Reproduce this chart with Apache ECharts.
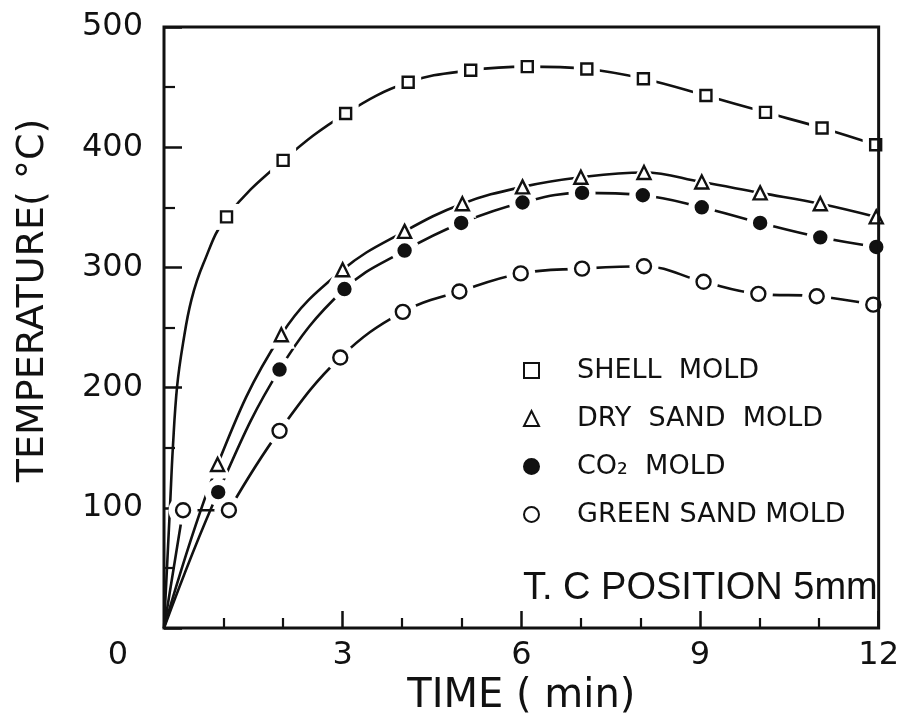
<!DOCTYPE html>
<html>
<head>
<meta charset="utf-8">
<script src="https://cdn.jsdelivr.net/npm/echarts@6/dist/echarts.min.js"></script>
<style>
  html, body { margin: 0; padding: 0; background: #fff; }
  #chart { width: 902px; height: 724px; }
</style>
</head>
<body>
<div id="chart"></div>
<script>
// Temperature history at the thermocouple (5 mm) for four mold types.
const seriesNames = ['SHELL  MOLD', 'DRY  SAND  MOLD', 'CO\u2082  MOLD', 'GREEN SAND MOLD'];

// Measured points (time in min, temperature in °C)
const shellTime = [1.05, 2.0, 3.05, 4.1, 5.15, 6.1, 7.1, 8.05, 9.1, 10.1, 11.05, 11.95];
const shellTemp = [342, 389, 428, 454, 464, 467, 465, 457, 443, 429, 416, 402];

const dryTime = [0.9, 1.97, 3.0, 4.04, 5.01, 6.02, 7.0, 8.06, 9.03, 10.01, 11.02, 11.96];
const dryTemp = [136, 244, 298, 330, 353, 367, 375, 379, 371, 362, 353, 342];

const co2Time = [0.91, 1.94, 3.03, 4.04, 4.99, 6.02, 7.02, 8.04, 9.03, 10.01, 11.02, 11.96];
const co2Temp = [113, 215, 282, 314, 337, 354, 362, 360, 350, 337, 325, 317];

const greenTime = [0.32, 1.09, 1.94, 2.96, 4.01, 4.96, 5.99, 7.02, 8.06, 9.06, 9.98, 10.96, 11.91];
const greenTemp = [98, 98, 164, 225, 263, 280, 295, 299, 301, 288, 278, 276, 269];

// Unmarked stretch of the shell-mold curve between pouring and the first reading
const shellRiseTime = [0, 0.1, 0.15, 0.22, 0.32, 0.46, 0.66];
const shellRiseTemp = [0, 100, 151, 201, 237, 273, 303];

// Axis ticks
const timeTicks = [0, 3, 6, 9, 12];
const tempTicks = [0, 100, 200, 300, 400, 500];

const INK = '#111';
const FONT = 'DejaVu Sans';

function zip(xs, ys) { return xs.map((x, i) => [x, ys[i]]); }

const greenPts = zip(greenTime, greenTemp);

// Each curve: drawn pieces (straight or smoothed) plus its marker style
const curves = [
  { name: seriesNames[0],
    pieces: [{ data: zip(shellRiseTime, shellRiseTemp).concat(zip(shellTime, shellTemp)), smooth: 0.4 }],
    pts: zip(shellTime, shellTemp), symbol: 'rect', size: 11, fill: '#fff' },
  { name: seriesNames[1],
    pieces: [{ data: [[0, 0]].concat(zip(dryTime, dryTemp)), smooth: 0.4 }],
    pts: zip(dryTime, dryTemp), symbol: 'triangle', size: 13, fill: '#fff' },
  { name: seriesNames[2],
    pieces: [{ data: [[0, 0]].concat(zip(co2Time, co2Temp)), smooth: 0.4 }],
    pts: zip(co2Time, co2Temp), symbol: 'circle', size: 12, fill: INK },
  { name: seriesNames[3],
    // straight rise to the 100 °C hold, flat hold, then the smooth climb
    pieces: [{ data: [[0, 0]].concat(greenPts.slice(0, 2)), smooth: false },
             { data: greenPts.slice(1), smooth: 0.4 }],
    pts: greenPts, symbol: 'circle', size: 14, fill: '#fff' }
];

const series = [];
curves.forEach((c, i) => {
  c.pieces.forEach((p, j) => {
    series.push({
      type: 'line', name: 'curve-' + i + '-' + j, data: p.data, smooth: p.smooth,
      showSymbol: false, z: 2, silent: true,
      lineStyle: { color: INK, width: 2.6 }
    });
  });
  // white ring that opens a small gap in the curve around each marker
  series.push({
    type: 'scatter', name: 'gap-' + i, data: c.pts, symbol: c.symbol, symbolSize: c.size + 15,
    z: 3, silent: true, itemStyle: { color: '#fff', opacity: 1 }
  });
  series.push({
    type: 'scatter', name: c.name, data: c.pts, symbol: c.symbol, symbolSize: c.size,
    z: 4, itemStyle: { color: c.fill, borderColor: INK, borderWidth: 2.4, opacity: 1 }
  });
});

const chart = echarts.init(document.getElementById('chart'), null, { renderer: 'canvas' });
chart.setOption({
  animation: false,
  backgroundColor: '#fff',
  grid: {
    left: 164, right: 22, top: 27, bottom: 96,
    show: true, z: 10, borderColor: INK, borderWidth: 3, backgroundColor: 'rgba(0,0,0,0)'
  },
  title: {
    text: 'T. C POSITION 5mm', left: 518, top: 565,
    textStyle: { fontFamily: 'Liberation Sans', fontSize: 38, fontWeight: 'normal', color: INK }
  },
  legend: {
    orient: 'vertical', left: 518, top: 352, selectedMode: false,
    itemWidth: 15, itemHeight: 15, itemGap: 21,
    data: seriesNames,
    textStyle: { fontFamily: FONT, fontSize: 27, color: INK, padding: [0, 0, 0, 33] }
  },
  xAxis: {
    type: 'value', min: timeTicks[0], max: timeTicks[timeTicks.length - 1], interval: 3,
    axisLine: { show: false },
    axisTick: { inside: true, length: 17, lineStyle: { color: INK, width: 2.5 } },
    minorTick: { show: true, splitNumber: 3, length: 10, lineStyle: { color: INK, width: 2.2 } },
    splitLine: { show: false },
    axisLabel: {
      margin: 12, fontFamily: FONT, fontSize: 32, color: INK,
      formatter: v => (v === 0 ? '{o|0}' : String(v)),
      rich: { o: { fontFamily: FONT, fontSize: 32, color: INK, padding: [0, 92, 0, 0] } }
    },
    name: 'TIME ( min)', nameLocation: 'middle', nameGap: 48,
    nameTextStyle: { fontFamily: FONT, fontSize: 40, color: INK }
  },
  yAxis: {
    type: 'value', min: tempTicks[0], max: tempTicks[tempTicks.length - 1], interval: 100,
    axisLine: { show: false },
    axisTick: { inside: true, length: 18, lineStyle: { color: INK, width: 2.5 } },
    minorTick: { show: true, splitNumber: 2, length: 11, lineStyle: { color: INK, width: 2.2 } },
    splitLine: { show: false },
    axisLabel: {
      margin: 21, fontFamily: FONT, fontSize: 32, color: INK,
      formatter: v => (v === 0 ? '' : String(v))
    },
    name: 'TEMPERATURE( \u00B0C)', nameLocation: 'middle', nameGap: 112,
    nameTextStyle: { fontFamily: FONT, fontSize: 38, color: INK, padding: [0, 0, 0, 54] }
  },
  series: series
});
</script>
</body>
</html>
